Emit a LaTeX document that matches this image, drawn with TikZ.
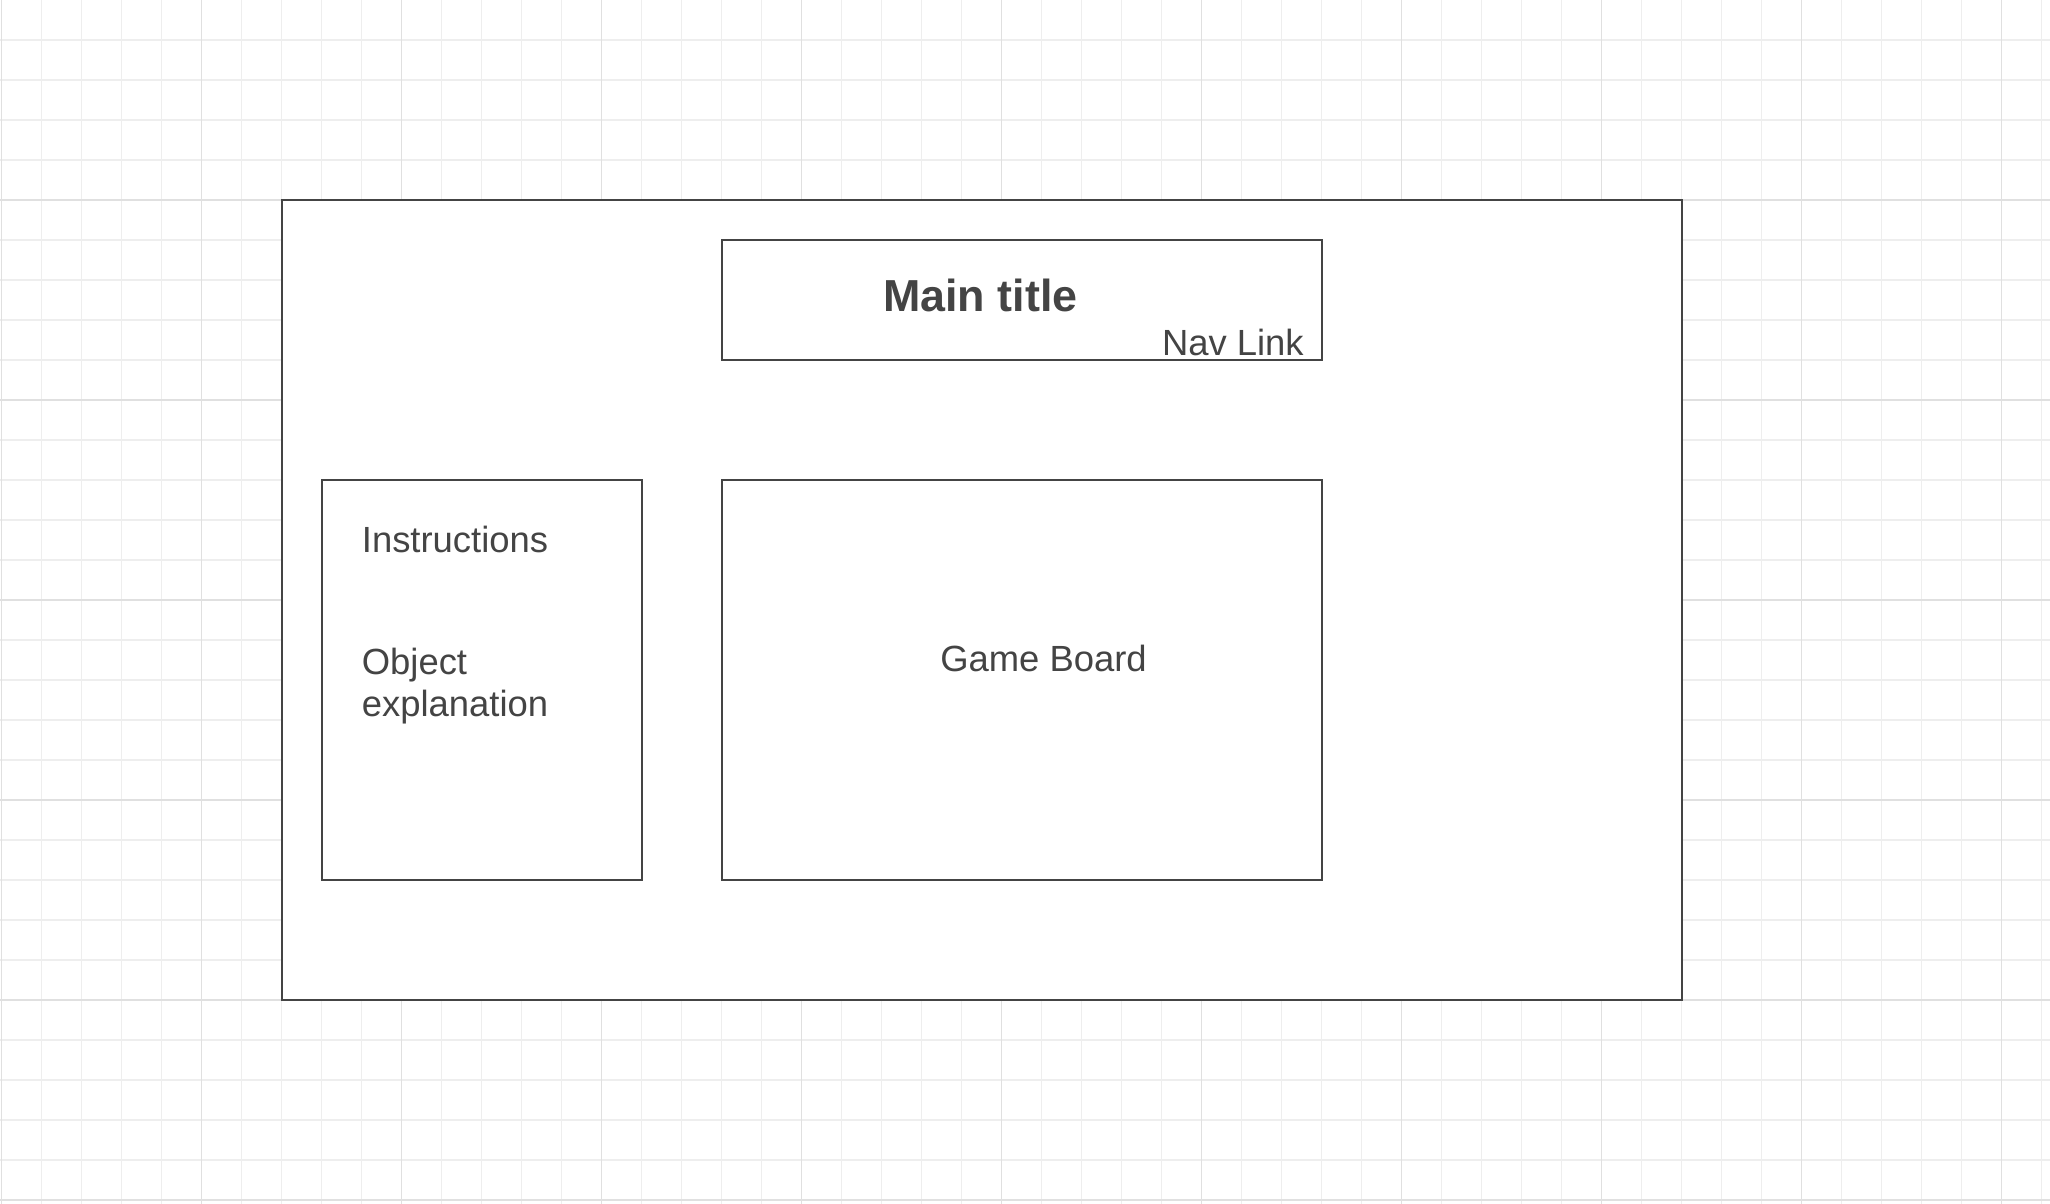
\documentclass[tikz,border=0pt]{standalone}
\usepackage{fontspec}
\setmainfont{Liberation Sans}
\usetikzlibrary{positioning}

\definecolor{gridminor}{HTML}{EEEEEE}
\definecolor{gridmajor}{HTML}{E0E0E0}
\definecolor{boxline}{HTML}{444444}
\definecolor{labeltext}{HTML}{444444}

\tikzset{
  panel/.style={draw=boxline, line width=0.05cm, fill=white,
    inner sep=0pt, outer sep=0pt},
  boxtext/.style={text=labeltext, inner sep=0pt, anchor=base west,
    align=left, font=\fontsize{25.9}{30.4}\selectfont},
  titletext/.style={boxtext, font=\fontsize{31.9}{37}\selectfont\bfseries}
}

\begin{document}
\begin{tikzpicture}[x=1cm, y=-1cm]
		\useasboundingbox (0,0) rectangle (51.25,30.1);
		% grid
		\foreach \i in {0,...,51}
			\draw[gridminor, line width=1pt] (\i+0.0425,0) -- (\i+0.0425,30.1);
		\foreach \j in {1,...,30}
			\draw[gridminor, line width=1pt] (0,\j) -- (51.25,\j);
		\foreach \i in {0,...,10}
			\draw[gridmajor, line width=1.1pt] ({5*\i+0.0425},0) -- ({5*\i+0.0425},30.1);
		\foreach \j in {1,...,6}
			\draw[gridmajor, line width=1.1pt] (0,{5*\j}) -- (51.25,{5*\j});
		% boxes
		\node[panel, minimum width=35cm, minimum height=20cm] (page) at (24.55, 15) {};
		\node[panel, minimum width=15cm, minimum height=3cm] (titlebar) at (25.55, 7.5) {};
		\node[panel, minimum width=8cm, minimum height=10cm] (sidebar) at (12.05, 17) {};
		\node[panel, minimum width=15cm, minimum height=10cm] (board) at (25.55, 17) {};
		% texts
		\node[titletext] (maintitle) at (22.07, 7.79) {Main title};
		\node[boxtext, anchor=base east] (navlink) at (32.6, 8.88) {Nav Link};
		\node[boxtext] (instructions) at (9.04, 13.81) {Instructions};
		\node[boxtext] (objexpl) at (9.04, 17.92) {Object\\explanation};
		\node[boxtext] (boardlabel) at (23.5, 16.79) {Game Board};
\end{tikzpicture}
\end{document}
